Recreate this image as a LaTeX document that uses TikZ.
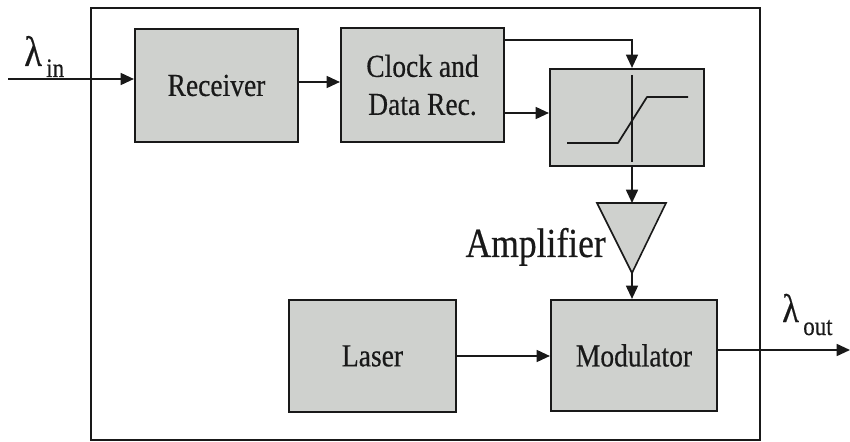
\documentclass[tikz,border=0pt]{standalone}
\usepackage{fontspec}
\setmainfont[FakeStretch=0.86,FakeBold=0.4]{Liberation Serif}
\usetikzlibrary{arrows.meta,calc}
\definecolor{boxfill}{RGB}{207,209,206}
\definecolor{ink}{RGB}{25,25,25}
\begin{document}
\begin{tikzpicture}[x=0.75pt,y=-0.75pt,
  blk/.style={draw=ink,fill=boxfill,line width=1.6pt,inner sep=0pt,align=center,
    font=\fontsize{24}{28.5}\selectfont,text=ink},
  arr/.style={draw=ink,line width=1.3pt,-{Triangle[length=10pt,width=9pt]}},
  wire/.style={draw=ink,line width=1.3pt}]
\useasboundingbox (0,0) rectangle (850,442);
% outer frame
\node (sys) [draw=ink,line width=1.5pt,minimum width=669*0.75pt,minimum height=432*0.75pt,inner sep=0pt] at (425.5,224) {};
% blocks
\node (rec) [blk,minimum width=163*0.75pt,minimum height=113*0.75pt] at (216.5,85.5) {Receiver};
\node (clk) [blk,minimum width=163*0.75pt,minimum height=114*0.75pt] at (422.5,85) {Clock and\\Data Rec.};
\node (dec) [blk,minimum width=154*0.75pt,minimum height=97*0.75pt] at (627,117.5) {};
\node (mod) [blk,minimum width=166*0.75pt,minimum height=111*0.75pt] at (634,355.5) {Modulator};
\node (las) [blk,minimum width=167*0.75pt,minimum height=112*0.75pt] at (372.5,356) {Laser};
% amplifier triangle
\coordinate (col) at (632,0);
\coordinate (ampL) at (597,203);
\coordinate (ampR) at (666,203);
\coordinate (amptop) at (632,203);
\coordinate (ampapex) at (632,273);
\draw[draw=ink,fill=boxfill,line width=1.2pt,line join=miter] (ampL) -- (ampR) -- (ampapex) -- cycle;
\node (amplabel) [anchor=base east,inner sep=0pt,text=ink,font=\fontsize{31}{36}\selectfont] at (606,257) {Amplifier};
% decision characteristic
\draw[wire] (632,75) -- (632,162);
\draw[wire,line join=round] (567,143) -- (618,143) -- (647,97) -- (688,97);
% labels
\node (lamin) [anchor=base west,inner sep=0pt,text=ink,font=\fontsize{32}{36}\selectfont] at (24,66) {λ};
\node (lamins) [anchor=base west,inner sep=0pt,text=ink,font=\fontsize{20}{24}\selectfont] at (46,77) {in};
\node (lamout) [anchor=base west,inner sep=0pt,text=ink,font=\fontsize{30}{36}\selectfont] at (782,322) {λ};
\node (lamouts) [anchor=base west,inner sep=0pt,text=ink,font=\fontsize{20}{24}\selectfont] at (803,335) {out};
% connectors
\coordinate (in) at (8,79);
\coordinate (out) at (850,350);
\draw[arr] (in) -- (in -| rec.west);
\draw[arr] (rec.east |- 0,82) -- (clk.west |- 0,82);
\draw[arr] (clk.east |- 0,40) -| (dec.north -| col);
\draw[arr] (clk.east |- 0,113) -- (dec.west |- 0,113);
\draw[arr] (dec.south -| col) -- (amptop);
\draw[arr] (ampapex) -- (mod.north -| col);
\draw[arr] (las.east |- 0,356) -- (mod.west |- 0,356);
\draw[arr] (mod.east |- 0,350) -- (out);
\end{tikzpicture}
\end{document}
